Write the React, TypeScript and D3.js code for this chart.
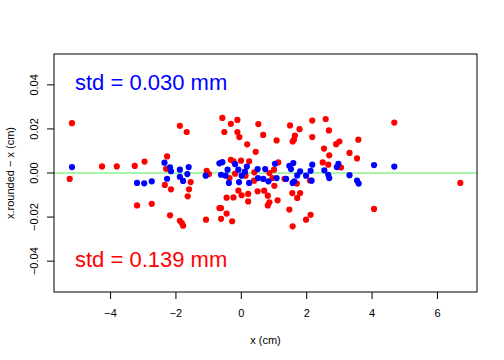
import React from "react";
import * as d3 from "d3";

// rounding error of the blue (0.030 mm) set
const blueX = [
  -5.18, -3.19, -2.97, -2.74, -2.35, -2.27, -2.18, -2.15, -1.88, -1.61, -1.65,
  -1.88, -1.78, -1.09, -0.67, -0.58, -0.62, -0.48, -0.42, -0.38, -0.19, -0.09,
  -0.07, 0.01, 0.17, 0.11, 0.24, 0.5, 0.51, 0.73, 0.67, 0.83, 1.03, 1.08, 1.47,
  1.52, 1.59, 1.37, 1.57, 1.62, 1.71, 1.8, 1.98, 2.12, 2.15, 2.17, 2.54, 2.66,
  2.69, 2.92, 2.97, 3.31, 3.54, 3.59, 4.06, 4.68,
];
const blueY = [
  0.0027, -0.0045, -0.0047, -0.0038, 0.0047, -0.0026, 0.0026, 0.0008, 0.0015,
  0.0027, -0.0005, -0.0017, -0.0036, -0.0012, 0.0044, 0.0049, -0.0008, -0.0012,
  0.0015, -0.0045, 0.004, 0.0015, -0.0041, -0.0012, 0.0029, 0.0006, -0.0045,
  0.0018, -0.0023, 0.0018, -0.0027, -0.0038, 0.0042, -0.0023, 0.0033, 0.0018,
  0.0045, -0.0027, -0.0045, -0.0038, -0.0011, 0.0007, -0.0012, 0.001, -0.0035,
  0.0038, 0.0012, -0.0008, -0.0023, 0.0027, 0.0042, -0.001, -0.0034, -0.0048,
  0.0036, 0.0029,
];

// rounding error of the red (0.139 mm) set
const redX = [
  -5.18, -5.25, -4.26, -3.81, -3.26, -2.96, -3.19, -2.74, -2.34, -2.27, -2.3,
  -2.15, -1.88, -1.67, -1.55, -1.6, -1.64, -2.18, -1.88, -1.82, -1.78, -1.08,
  -1.06, -0.99, -0.67, -0.62, -0.62, -0.45, -0.45, -0.58, -0.52, -0.32, -0.12,
  -0.12, -0.06, 0.18, 0.44, 0.52, 0.67, 1.08, -0.32, -0.24, -0.01, 0.24, 1.13,
  1.0, -0.19, 0.4, 0.86, -0.36, 0.13, 0.39, 0.95, 1.32, 1.01, -0.09, 0.01, 0.21,
  0.5, 0.7, 0.81, -0.24, 0.21, 0.86, 0.81, 1.11, -0.28, 1.49, 2.17, 2.58, 2.68,
  1.78, 1.64, 1.61, 1.57, 2.17, 2.53, 2.69, 3.0, 2.9, 3.31, 2.49, 2.66, 3.05,
  1.7, 2.1, 1.56, 1.8, 1.71, 1.47, 2.12, 1.98, 1.57, 4.68, 3.58, 3.54, 6.7,
  4.06,
];
const redY = [
  0.0226, -0.0027, 0.003, 0.003, 0.0032, 0.0052, -0.0147, -0.014, -0.0054,
  0.0075, 0.0019, -0.0074, 0.0214, 0.0186, -0.0041, -0.0074, -0.0106, -0.0192,
  -0.0217, -0.0227, -0.0239, -0.0212, 0.001, -0.0005, -0.0159, -0.0159, -0.0208,
  -0.0184, -0.0112, 0.025, 0.0186, 0.0223, 0.0241, 0.0186, 0.0163, 0.013,
  0.0096, 0.0222, 0.0173, 0.0148, 0.006, 0.0053, 0.0056, 0.0053, 0.0048, 0.0015,
  -0.0003, 0.0003, 0.0, -0.0023, -0.0012, -0.0035, -0.0023, -0.0026, -0.0058,
  -0.008, -0.0101, -0.0095, -0.0083, -0.008, -0.0103, -0.0111, -0.0129, -0.0133,
  -0.0147, -0.0124, -0.0219, 0.0216, 0.0238, 0.0245, 0.0193, 0.0199, 0.017,
  0.0151, 0.0143, 0.0163, 0.0111, 0.008, 0.0143, 0.0131, 0.0091, 0.0048,
  0.0038, 0.0025, -0.0048, -0.0034, -0.0091, -0.0091, -0.0113, -0.0166, -0.019,
  -0.0212, -0.0242, 0.0229, 0.0151, 0.0066, -0.0045, -0.0163,
];

const xTicks = [-4, -2, 0, 2, 4, 6];
const yTicks = [-0.04, -0.02, 0, 0.02, 0.04];
const blueLabel = "std = 0.030 mm";
const redLabel = "std = 0.139 mm";

const W = 504;
const H = 360;
const left = 54;
const right = 477;
const top = 54;
const bottom = 292;

const fmtY = (v: number) => (v < 0 ? "\u2212" : "") + Math.abs(v).toFixed(2);
const fmtX = (v: number) => (v < 0 ? "\u2212" : "") + Math.abs(v);

export default function App() {
  const x = d3.scaleLinear().domain([-5.73, 7.21]).range([left, right]);
  const y = d3.scaleLinear().domain([-0.054, 0.054]).range([bottom, top]);

  const font = "'Liberation Sans', Arial, sans-serif";

  return (
    <svg
      width={W}
      height={H}
      style={{ position: "absolute", left: 0, top: 0, background: "#fff" }}
      fontFamily={font}
    >
      <line
        x1={left}
        x2={right}
        y1={y(0)}
        y2={y(0)}
        stroke="#55ee55"
        strokeWidth={1}
      />
      {redX.map((d, i) => (
        <circle key={"r" + i} cx={x(d)} cy={y(redY[i])} r={3.1} fill="#ff0000" />
      ))}
      {blueX.map((d, i) => (
        <circle key={"b" + i} cx={x(d)} cy={y(blueY[i])} r={3.1} fill="#0000ff" />
      ))}
      <rect
        x={left}
        y={top}
        width={right - left}
        height={bottom - top}
        fill="none"
        stroke="#000"
        strokeWidth={1}
      />
      {xTicks.map((t) => (
        <g key={"x" + t}>
          <line x1={x(t)} x2={x(t)} y1={bottom} y2={bottom + 7} stroke="#000" />
          <text x={x(t)} y={317} fontSize={11} textAnchor="middle">
            {fmtX(t)}
          </text>
        </g>
      ))}
      {yTicks.map((t) => (
        <g key={"y" + t}>
          <line x1={left - 7} x2={left} y1={y(t)} y2={y(t)} stroke="#000" />
          <text
            transform={`translate(38,${y(t)}) rotate(-90)`}
            fontSize={11}
            textAnchor="middle"
          >
            {fmtY(t)}
          </text>
        </g>
      ))}
      <text x={(left + right) / 2} y={344} fontSize={11} textAnchor="middle">
        x (cm)
      </text>
      <text
        transform={`translate(14,${(top + bottom) / 2}) rotate(-90)`}
        fontSize={11}
        textAnchor="middle"
      >
        x.rounded − x (cm)
      </text>
      <text x={75} y={90} fontSize={22} fill="#0000ff">
        {blueLabel}
      </text>
      <text x={75} y={267} fontSize={22} fill="#ff0000">
        {redLabel}
      </text>
    </svg>
  );
}
